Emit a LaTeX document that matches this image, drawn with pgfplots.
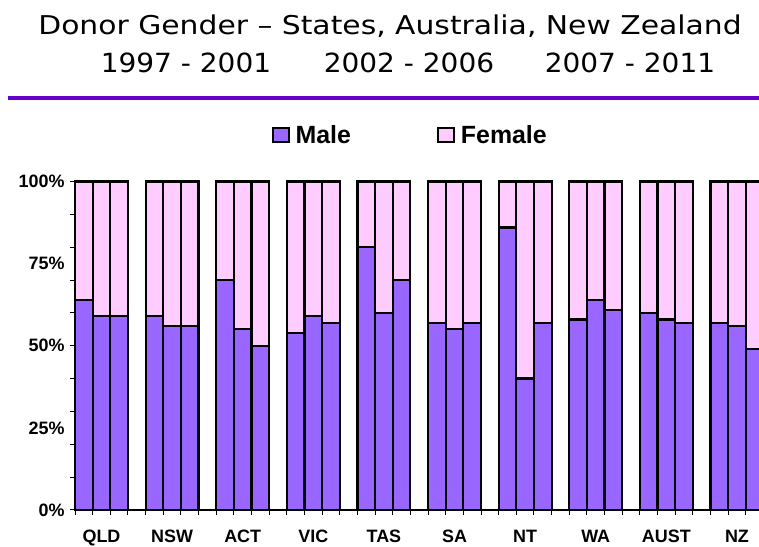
\documentclass[border=0pt]{standalone}
\usepackage{pgfplots}
\pgfplotsset{compat=1.18}
\usepackage{fontspec}
\setmainfont{Liberation Sans}
\newfontfamily\titlefont[FakeStretch=1.15]{DejaVu Sans}
\newfontfamily\subtitlefont[FakeStretch=1.06]{DejaVu Sans}
\definecolor{male}{HTML}{9966FF}
\definecolor{female}{HTML}{FFCCFF}
\definecolor{rule}{HTML}{6600CC}
\begin{document}
\begin{tikzpicture}[x=1bp,y=1bp]
\useasboundingbox (0,0) rectangle (759,547);
\node[font=\titlefont\fontsize{26}{26}\selectfont, anchor=base, inner sep=0pt] at (390,512) {Donor Gender – States, Australia, New Zealand};
\node[font=\subtitlefont\fontsize{26.5}{26}\selectfont, anchor=base, inner sep=0pt] at (186,474) {1997 - 2001};
\node[font=\subtitlefont\fontsize{26.5}{26}\selectfont, anchor=base, inner sep=0pt] at (409,474) {2002 - 2006};
\node[font=\subtitlefont\fontsize{26.5}{26}\selectfont, anchor=base, inner sep=0pt] at (630,474) {2007 - 2011};
\draw[rule, line width=4bp] (8,449) -- (770,449);
\begin{axis}[
  at={(75bp,37bp)}, anchor=south west,
  scale only axis, width=684bp, height=328.5bp,
  ybar stacked, bar width=1,
  xmin=0, xmax=38.75, ymin=0, ymax=100,
  enlargelimits=false, clip=false,
  axis x line*=bottom, axis y line*=left,
  axis line style={-, black, line width=1.5bp},
  xtick={1.5,5.5,9.5,13.5,17.5,21.5,25.5,29.5,33.5,37.5},
  xticklabels={QLD,NSW,ACT,VIC,TAS,SA,NT,WA,AUST,NZ},
  minor xtick={0,1,...,38},
  ytick={0,25,50,75,100},
  yticklabels={0\%,25\%,50\%,75\%,100\%},
  minor ytick={0,10,...,100},
  tick align=outside, major tick length=0pt, minor tick length=5bp,
  tick style={black, line width=1bp},
  /pgf/number format/assume math mode=true,
  ticklabel style={font=\bfseries\fontsize{18}{18}\selectfont},
  xticklabel style={anchor=base, yshift=-33bp, text height=13bp, text depth=0pt},
  yticklabel style={xshift=-7bp},
  legend columns=2,
  legend style={draw=none, fill=none, at={(0.49,1.14)}, anchor=center,
    font=\bfseries\fontsize{25}{25}\selectfont,
    /tikz/every odd column/.append style={column sep=4bp},
    /tikz/every even column/.append style={column sep=84bp}},
  legend image code/.code={\draw[#1, line width=2bp] (0bp,-7bp) rectangle (16bp,7bp);},
]
\addplot[fill=male, draw=black, line width=2.2bp] coordinates {
(0.5,64) (1.5,59) (2.5,59)
(4.5,59) (5.5,56) (6.5,56)
(8.5,70) (9.5,55) (10.5,50)
(12.5,54) (13.5,59) (14.5,57)
(16.5,80) (17.5,60) (18.5,70)
(20.5,57) (21.5,55) (22.5,57)
(24.5,86) (25.5,40) (26.5,57)
(28.5,58) (29.5,64) (30.5,61)
(32.5,60) (33.5,58) (34.5,57)
(36.5,57) (37.5,56) (38.5,49)
};
\addlegendentry{Male}
\addplot[fill=female, draw=black, line width=2.2bp] coordinates {
(0.5,36) (1.5,41) (2.5,41)
(4.5,41) (5.5,44) (6.5,44)
(8.5,30) (9.5,45) (10.5,50)
(12.5,46) (13.5,41) (14.5,43)
(16.5,20) (17.5,40) (18.5,30)
(20.5,43) (21.5,45) (22.5,43)
(24.5,14) (25.5,60) (26.5,43)
(28.5,42) (29.5,36) (30.5,39)
(32.5,40) (33.5,42) (34.5,43)
(36.5,43) (37.5,44) (38.5,51)
};
\addlegendentry{Female}
\end{axis}
\end{tikzpicture}
\end{document}
